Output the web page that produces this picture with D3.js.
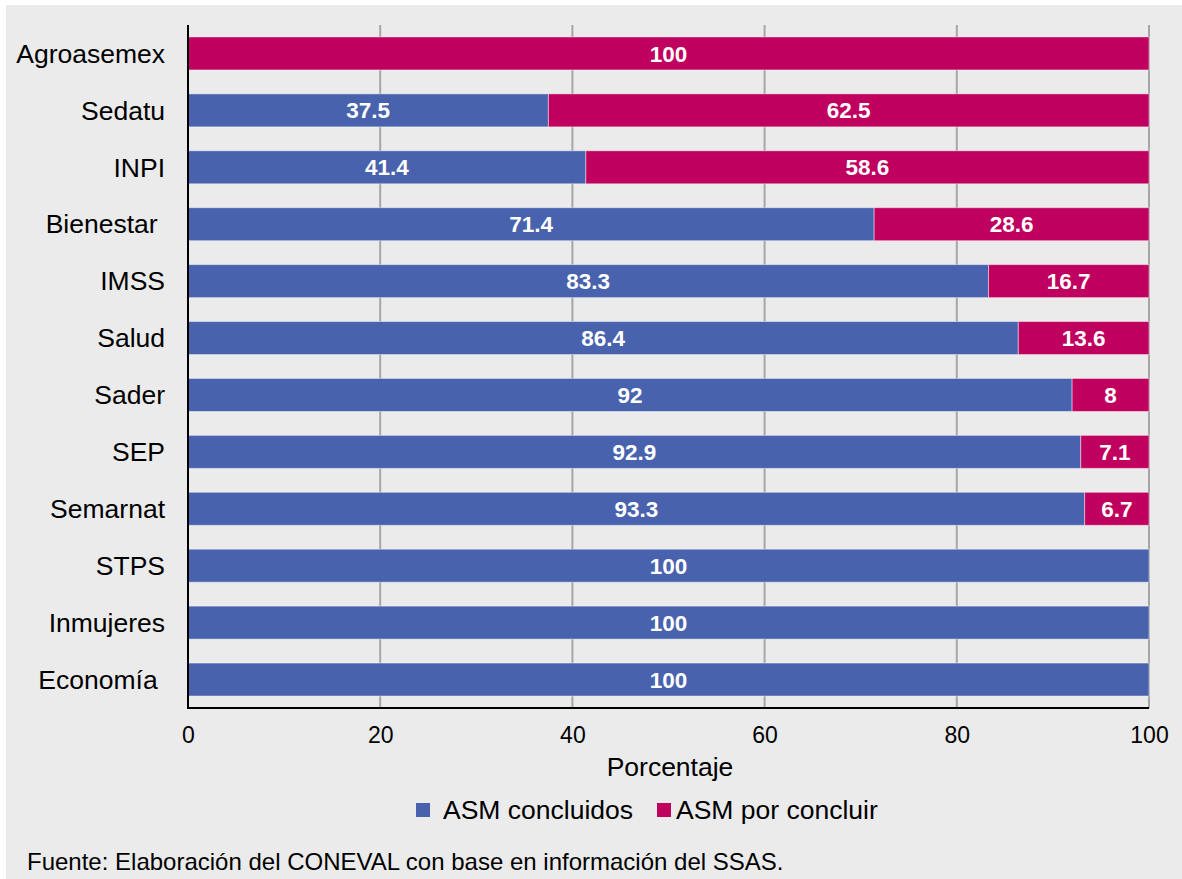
<!DOCTYPE html>
<html><head><meta charset="utf-8">
<script src="https://cdn.jsdelivr.net/npm/d3@7"></script>
<style>
html,body{margin:0;padding:0;background:#fff;}
svg text{font-family:"Liberation Sans",Arial,sans-serif;}
</style></head>
<body>
<svg id="c" width="1182" height="879"></svg>
<script>
const categories = ["Agroasemex","Sedatu","INPI","Bienestar ","IMSS","Salud","Sader","SEP","Semarnat","STPS","Inmujeres","Economía "];
const concluidos = [0,37.5,41.4,71.4,83.3,86.4,92,92.9,93.3,100,100,100];
const porConcluir = [100,62.5,58.6,28.6,16.7,13.6,8,7.1,6.7,0,0,0];
const seriesNames = ["ASM concluidos","ASM por concluir"];
const xTicks = [0,20,40,60,80,100];
const colors = ["#4862ae","#c0005e"];

const svg = d3.select("#c");
svg.append("rect").attr("x",6).attr("y",5).attr("width",1176).attr("height",874).attr("fill","#ebebeb");

const x = d3.scaleLinear().domain([0,100]).range([188,1149]);
const y = d3.scaleBand().domain(categories).range([25,708]).paddingInner(0.42).paddingOuter(0.21);

// gridlines
svg.append("g").selectAll("line").data(xTicks.filter(d=>d>0)).join("line")
  .attr("x1",d=>x(d)).attr("x2",d=>x(d)).attr("y1",25).attr("y2",708)
  .attr("stroke","#a6a6a6").attr("stroke-width",2);

const rows = categories.map((c,i)=>({c, a:concluidos[i], b:porConcluir[i]}));
const segs = [];
rows.forEach(r=>{
  if(r.a>0) segs.push({c:r.c,x0:0,x1:r.a,v:r.a,s:0});
  if(r.b>0) segs.push({c:r.c,x0:r.a,x1:r.a+r.b,v:r.b,s:1});
});

svg.append("g").selectAll("rect").data(segs).join("rect")
  .attr("x",d=>x(d.x0)).attr("width",d=>x(d.x1)-x(d.x0))
  .attr("y",d=>y(d.c)).attr("height",y.bandwidth())
  .attr("fill",d=>colors[d.s])
  .attr("stroke","rgba(255,255,255,0.45)").attr("stroke-width",1);

svg.append("g").selectAll("text").data(segs).join("text")
  .attr("x",d=>(x(d.x0)+x(d.x1))/2).attr("y",d=>y(d.c)+y.bandwidth()/2)
  .attr("dy","0.36em").attr("text-anchor","middle")
  .attr("fill","#fff").attr("font-weight","bold").attr("font-size",22.5)
  .text(d=>d.v);

// axes lines
svg.append("line").attr("x1",x(0)).attr("x2",x(0)).attr("y1",25).attr("y2",709).attr("stroke","#000").attr("stroke-width",2);
svg.append("line").attr("x1",x(0)-1).attr("x2",x(100)).attr("y1",708).attr("y2",708).attr("stroke","#000").attr("stroke-width",2);

// x tick labels via axis
const xAxis = d3.axisBottom(x).tickValues(xTicks).tickSize(0).tickPadding(0).tickFormat(d3.format("d"));
const gx = svg.append("g").attr("transform","translate(0,727)").call(xAxis);
gx.select(".domain").remove();
gx.selectAll("text").attr("font-size",23).attr("fill","#000").attr("dy","0.71em");

// y labels via axis
const yAxis = d3.axisLeft(y).tickSize(0).tickPadding(0);
const gy = svg.append("g").attr("transform","translate(165,0)").call(yAxis);
gy.select(".domain").remove();
gy.selectAll("text").attr("font-size",26.5).attr("fill","#000").style("white-space","pre").attr("dy","0.35em");

svg.append("text").attr("x",670).attr("y",767).attr("dy","0.35em").attr("text-anchor","middle")
  .attr("font-size",26.5).attr("fill","#000").text("Porcentaje");

// legend
const leg = [{x:416,tx:443},{x:657,tx:676}];
seriesNames.forEach((n,i)=>{
  svg.append("rect").attr("x",leg[i].x).attr("y",803).attr("width",14).attr("height",14).attr("fill",colors[i]);
  svg.append("text").attr("x",leg[i].tx).attr("y",810).attr("dy","0.35em").attr("font-size",26.5).attr("fill","#000").text(n);
});

svg.append("text").attr("x",27).attr("y",862).attr("dy","0.35em").attr("font-size",24).attr("fill","#000")
  .text("Fuente: Elaboración del CONEVAL con base en información del SSAS.");
</script>
</body></html>
